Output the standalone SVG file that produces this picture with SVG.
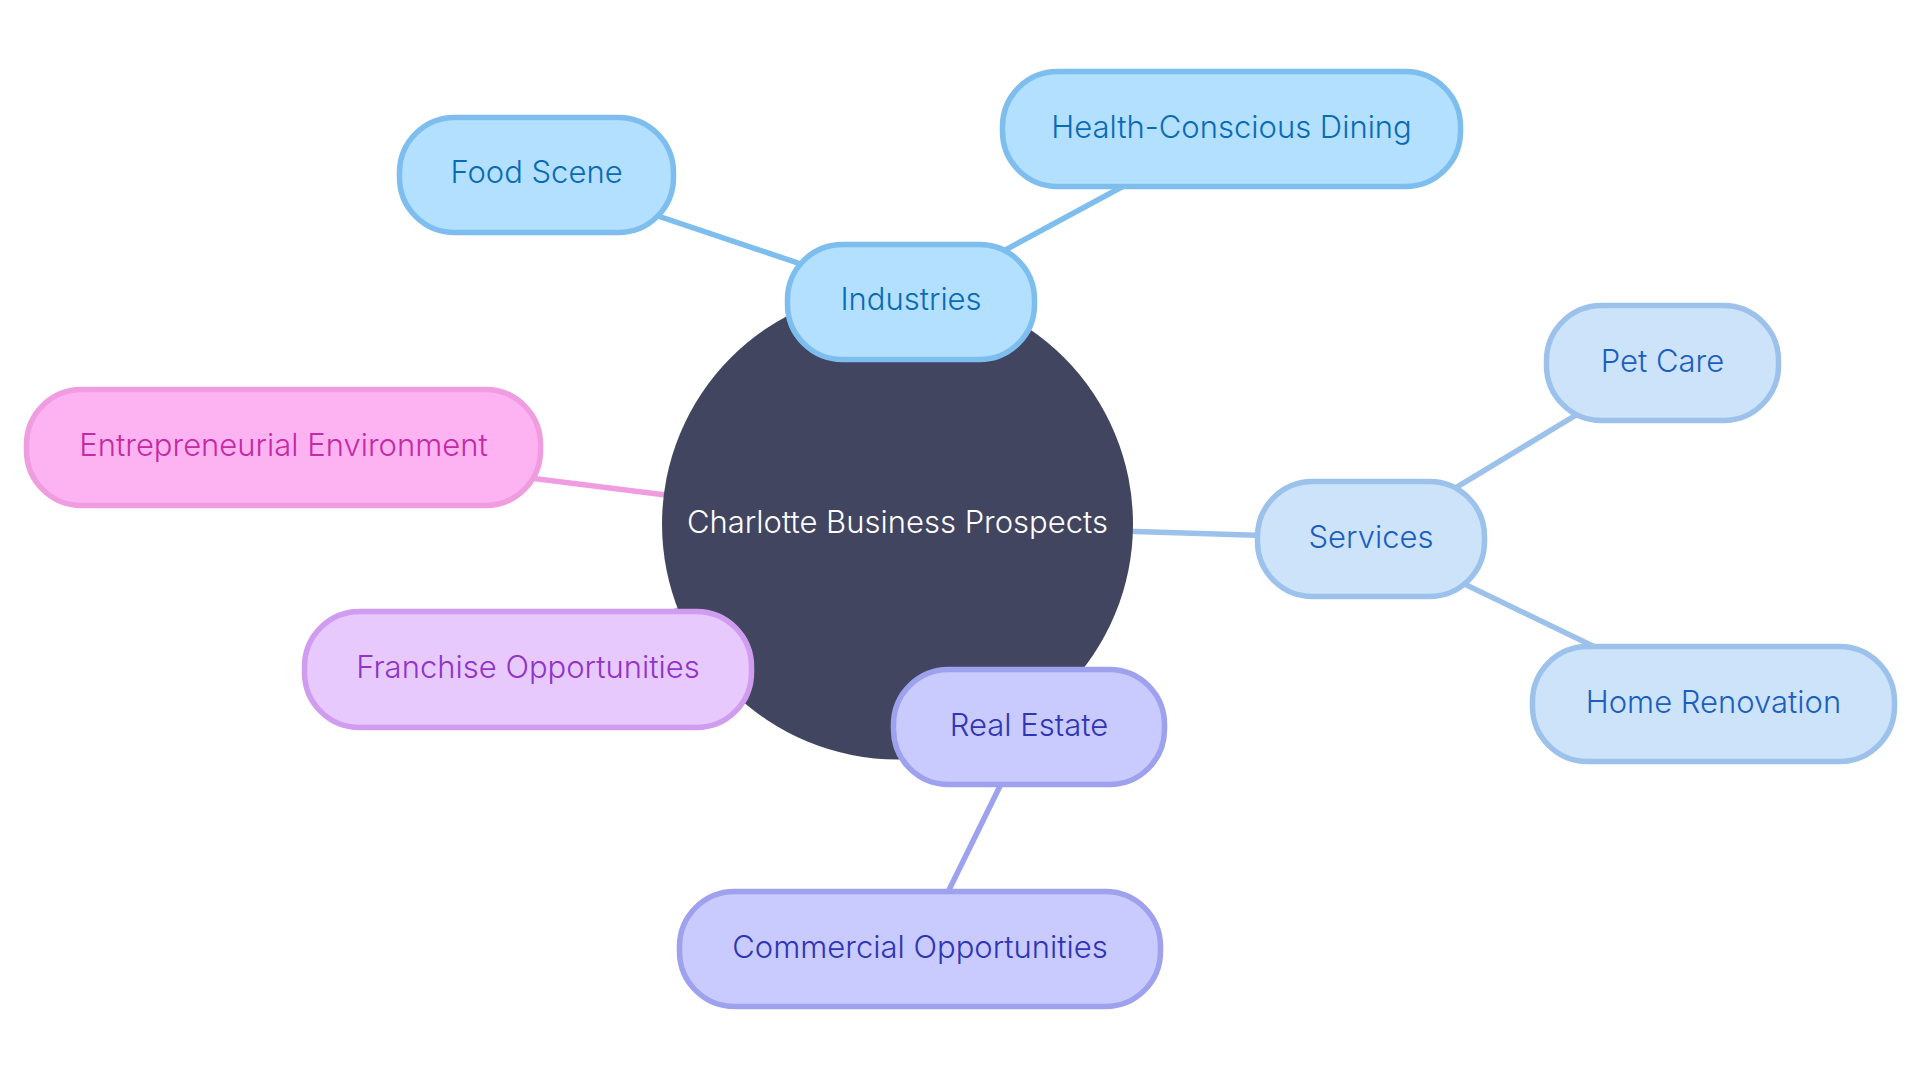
<svg xmlns="http://www.w3.org/2000/svg" width="1920" height="1080" viewBox="0 0 1920 1080">
<style>
text{font-family:Inter,"Noto Sans","Liberation Sans",sans-serif;font-size:31px;font-weight:300;text-anchor:middle}
.n rect{stroke-width:5.5}
.ind rect{fill:#B3E0FE;stroke:#7DBEEF}.ind text{fill:#0A6BB5}
.svc rect{fill:#CDE3FA;stroke:#9CC2EC}.svc text{fill:#1A5FBF}
.pnk rect{fill:#FDB3F2;stroke:#F09CE0}.pnk text{fill:#C42AA2}
.pur rect{fill:#E7C9FD;stroke:#CF9CEF}.pur text{fill:#9233C9}
.rea rect{fill:#C9CAFD;stroke:#9EA1EE}.rea text{fill:#2F35B5}
#edges line{stroke-width:5.5;stroke-linecap:round}
</style>
<rect width="1920" height="1080" fill="#FFFFFF"/>
<g id="edges">
<line x1="536" y1="175" x2="911" y2="301" stroke="#7DBEEF"/>
<line x1="1231" y1="128" x2="911" y2="301" stroke="#7DBEEF"/>
<line x1="897" y1="524" x2="911" y2="301" stroke="#7DBEEF"/>
<line x1="283" y1="447" x2="897" y2="524" stroke="#F09CE0"/>
<line x1="897" y1="524" x2="1371" y2="539" stroke="#9CC2EC"/>
<line x1="1371" y1="539" x2="1662" y2="363" stroke="#9CC2EC"/>
<line x1="1371" y1="539" x2="1713" y2="704" stroke="#9CC2EC"/>
<line x1="897" y1="524" x2="528" y2="669" stroke="#CF9CEF"/>
<line x1="897" y1="524" x2="1029" y2="727" stroke="#9EA1EE"/>
<line x1="1029" y1="727" x2="920" y2="949" stroke="#9EA1EE"/>
</g>
<g id="root">
<circle cx="897.5" cy="524" r="235.5" fill="#414560"/>
<text x="897.5" y="533" fill="#FFFFFF">Charlotte Business Prospects</text>
</g>
<g id="industries" class="n ind">
<rect x="787.5" y="244.5" width="247" height="115" rx="55"/>
<text x="911" y="310">Industries</text>
</g>
<g id="food-scene" class="n ind">
<rect x="399.5" y="117.5" width="274" height="115" rx="55"/>
<text x="536.5" y="183">Food Scene</text>
</g>
<g id="health-dining" class="n ind">
<rect x="1002.5" y="71.5" width="458" height="115" rx="55"/>
<text x="1231.5" y="138">Health-Conscious Dining</text>
</g>
<g id="services" class="n svc">
<rect x="1257.5" y="481.5" width="227" height="115" rx="55"/>
<text x="1371" y="548">Services</text>
</g>
<g id="pet-care" class="n svc">
<rect x="1546.5" y="305.5" width="232" height="115" rx="55"/>
<text x="1662.5" y="372">Pet Care</text>
</g>
<g id="home-renovation" class="n svc">
<rect x="1532.5" y="646.5" width="362" height="115" rx="55"/>
<text x="1713.5" y="713">Home Renovation</text>
</g>
<g id="entrepreneurial" class="n pnk">
<rect x="26.5" y="389.5" width="514" height="116" rx="55"/>
<text x="283.5" y="456">Entrepreneurial Environment</text>
</g>
<g id="franchise" class="n pur">
<rect x="304.5" y="611.5" width="447" height="116" rx="55"/>
<text x="528" y="678">Franchise Opportunities</text>
</g>
<g id="real-estate" class="n rea">
<rect x="893.5" y="669.5" width="271" height="115" rx="55"/>
<text x="1029" y="736">Real Estate</text>
</g>
<g id="commercial" class="n rea">
<rect x="679.5" y="891.5" width="481" height="115" rx="55"/>
<text x="920" y="958">Commercial Opportunities</text>
</g>
</svg>
